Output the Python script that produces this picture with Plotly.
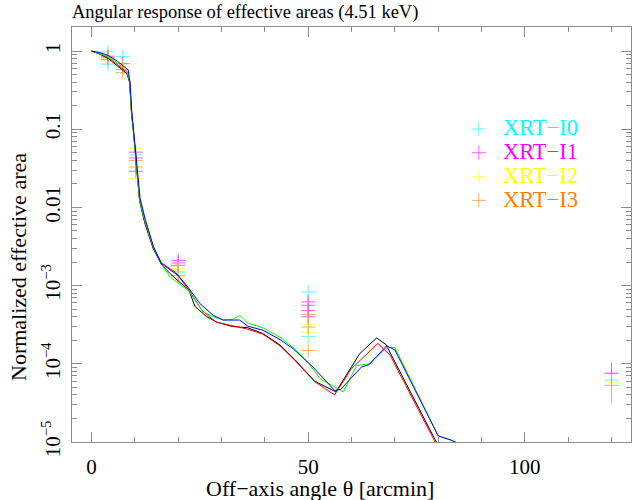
import plotly.graph_objects as go

# ---------------- data ----------------
# model curves (off-axis angle [arcmin], normalized effective area)
black_x = [0, 2, 4, 6, 8.2, 8.8, 9.2, 9.7, 10.4, 11.1, 12.3, 14.2, 16.15,
           18, 20, 22.4, 23.9, 26.6, 29, 32.5, 36, 39.5, 43.5, 47, 51.5,
           56.4, 61.9, 65.8, 67.9, 79.6, 82]
black_y = [1.0, 0.912, 0.794, 0.646, 0.513, 0.398, 0.170, 0.0912, 0.0302, 0.0120, 0.00631, 0.00302, 0.00186,
           1.45e-3, 1.15e-3, 8.9e-4, 5.4e-4, 4.0e-4, 3.4e-4, 3.0e-4, 2.9e-4, 2.45e-4, 1.74e-4, 1.12e-4, 6.0e-5,
           4.37e-5, 1.35e-4, 2.14e-4, 1.78e-4, 1.0e-5, 5.5e-6]

red_x = [0, 2, 4, 6, 8.2, 8.8, 9.2, 9.7, 10.4, 11.1, 12.3, 14.2, 16.15,
         19.4, 22.4, 25.5, 28.8, 35.8, 39.5, 43.5, 47, 51.5,
         56.1, 60, 66.1, 68.9, 79.3, 82]
red_y = [1.0, 0.923, 0.813, 0.676, 0.537, 0.407, 0.174, 0.0933, 0.0316, 0.0126, 0.00661, 0.00316, 0.00195,
         1.48e-3, 8.9e-4, 4.8e-4, 3.4e-4, 2.8e-4, 2.4e-4, 1.7e-4, 1.1e-4, 5.9e-5,
         4.0e-5, 8.7e-5, 1.82e-4, 1.29e-4, 1.0e-5, 5.0e-6]

green_x = [0, 2, 4, 6, 8.2, 8.8, 9.2, 9.7, 10.4, 11.1, 12.3, 14.2, 16.15,
           18.1, 22.3, 25.8, 28.1, 30.4, 32.7, 34.2, 36.1, 39.6, 43.5, 46.5, 49.8, 52.7,
           58.1, 61.2, 64.1, 68.1, 70.0, 80.0, 83.1, 90]
green_y = [1.0, 0.933, 0.832, 0.708, 0.550, 0.417, 0.178, 0.0933, 0.0316, 0.0126, 0.00676, 0.00316, 0.00191,
           1.29e-3, 8.7e-4, 4.6e-4, 4.0e-4, 3.63e-4, 3.72e-4, 4.17e-4, 3.31e-4, 2.88e-4, 2.19e-4, 1.62e-4, 1.07e-4, 6.5e-5,
           4.37e-5, 9.5e-5, 1.0e-4, 1.62e-4, 1.62e-4, 1.2e-5, 1.05e-5, 7.1e-6]

blue_x = [0, 2, 4, 6, 8.45, 8.9, 9.3, 9.8, 10.5, 11.2, 12.4, 14.3, 16.15,
          20, 22.3, 25, 28.1, 30.4, 34.2, 36.1, 39.6, 43.5, 46.6, 51.1,
          56.1, 57.5, 62.3, 64.1, 68.1, 70.0, 80.0, 83.1, 90]
blue_y = [1.0, 0.955, 0.871, 0.741, 0.575, 0.398, 0.166, 0.0891, 0.0316, 0.0132, 0.00708, 0.00316, 0.00191,
          1.35e-3, 9.5e-4, 5.9e-4, 4.17e-4, 3.63e-4, 3.63e-4, 3.02e-4, 2.69e-4, 2.04e-4, 1.55e-4, 9.1e-5,
          4.57e-5, 4.7e-5, 9.1e-5, 9.8e-5, 1.7e-4, 1.51e-4, 1.2e-5, 1.05e-5, 7.1e-6]

# measured points
i0_x = [3.8, 3.8, 7.2, 10.2, 20, 50, 50, 120]
i0_y = [0.98, 0.68, 0.85, 0.047, 1.5e-3, 8.3e-4, 2.24e-4, 6.2e-5]
i0_ep = [0, 0, 0, 0, 0, 0, 0, 1.5e-5]
i0_em = [0, 0, 0, 0, 0, 0, 0, 1.2e-5]

i1_x = [3.8, 7.2, 10.2, 10.2, 10.2, 20, 20, 20, 50, 50, 50, 50, 120]
i1_y = [0.86, 0.69, 0.051, 0.043, 0.029, 2.1e-3, 1.95e-3, 1.82e-3, 6.2e-4, 5.6e-4, 4.8e-4, 4.0e-4, 7.6e-5]
i1_ep = [0, 0, 0, 0, 0, 0, 0, 0, 0, 0, 0, 0, 2.8e-5]
i1_em = [0, 0, 0, 0, 0, 0, 0, 0, 0, 0, 0, 0, 1.5e-5]

i2_x = [3.8, 7.2, 10.2, 10.2, 20, 20, 50, 50, 120]
i2_y = [0.80, 0.63, 0.057, 0.0235, 1.66e-3, 1.29e-3, 3.2e-4, 2.5e-4, 5.8e-5]
i2_ep = [0, 0, 0, 0, 0, 0, 0, 0, 1.5e-5]
i2_em = [0, 0, 0, 0, 0, 0, 0, 0, 3.0e-5]

i3_x = [3.8, 3.8, 7.2, 7.2, 10.2, 10.2, 20, 50, 50, 50, 120, 120]
i3_y = [0.83, 0.78, 0.58, 0.53, 0.040, 0.033, 1.35e-3, 4.3e-4, 2.95e-4, 1.48e-4, 7.5e-5, 5.3e-5]
i3_ep = [0, 0, 0, 0, 0, 0, 0, 0, 0, 0, 1.5e-5, 1.5e-5]
i3_em = [0, 0, 0, 0, 0, 0, 0, 0, 0, 0, 2.0e-5, 2.0e-5]

y_tickvals = [1, 0.1, 0.01, 1e-3, 1e-4, 1e-5]
y_ticktext = ["1", "0.1", "0.01", "10<sup>−3</sup>", "10<sup>−4</sup>", "10<sup>−5</sup>"]

# ---------------- figure ----------------
FONT = "Liberation Serif, Times New Roman, serif"
AX = "#8c8c8c"

fig = go.Figure()

series = [
    ("XRT−I0", "#00ffff", i0_x, i0_y, i0_ep, i0_em),
    ("XRT−I1", "#ff00ff", i1_x, i1_y, i1_ep, i1_em),
    ("XRT−I2", "#ffff00", i2_x, i2_y, i2_ep, i2_em),
    ("XRT−I3", "#ff7f00", i3_x, i3_y, i3_ep, i3_em),
]
for name, col, xs, ys, ep, em in series:
    fig.add_trace(go.Scatter(
        x=xs, y=ys, mode="markers",
        name=f'<span style="color:{col};font-size:22.5px">{name}</span>',
        marker=dict(symbol="cross-thin-open", size=10, color=col,
                    line=dict(width=1, color=col)),
        opacity=0.65,
        error_y=dict(type="data", symmetric=False, array=ep, arrayminus=em,
                     color=col, thickness=1, width=0),
    ))

for xs, ys, col in [(black_x, black_y, "#000000"), (red_x, red_y, "#ff0000"),
                    (green_x, green_y, "#00ff00"), (blue_x, blue_y, "#0000ff")]:
    fig.add_trace(go.Scatter(x=xs, y=ys, mode="lines", showlegend=False,
                             line=dict(color=col, width=1)))

fig.update_layout(
    width=632, height=500,
    margin=dict(l=72, r=1, t=27, b=58, autoexpand=False),
    paper_bgcolor="white", plot_bgcolor="white",
    font=dict(family=FONT, size=21, color="black"),
    title=dict(text="Angular response of effective areas (4.51 keV)",
               x=72 / 632, xref="container", xanchor="left",
               y=1 - 12 / 500, yref="container", yanchor="middle",
               font=dict(family=FONT, size=18.5, color="black")),
    legend=dict(x=0.685, y=0.795, xanchor="left", yanchor="top",
                bgcolor="rgba(0,0,0,0)", font=dict(family=FONT, size=16),
                tracegroupgap=0, itemwidth=38),
    showlegend=True,
    annotations=[
        dict(text="Off−axis angle θ [arcmin]", xref="paper", yref="paper",
             x=(320 - 72) / 559, y=(442 - 488) / 415, xanchor="center", yanchor="middle",
             showarrow=False, font=dict(family=FONT, size=22, color="black")),
        dict(text="Normalized effective area", xref="paper", yref="paper",
             x=(18 - 72) / 559, y=(442 - 267) / 415, xanchor="center", yanchor="middle",
             textangle=-90, showarrow=False, font=dict(family=FONT, size=22, color="black")),
    ],
)

fig.update_xaxes(
    range=[-4.5, 124.5], tick0=0, dtick=50, automargin=False,
    showline=True, linecolor=AX, linewidth=1, mirror="ticks",
    ticks="inside", ticklen=10, tickcolor=AX, tickwidth=1,
    minor=dict(dtick=10, tick0=0, ticks="inside", ticklen=5, tickcolor=AX, showgrid=False),
    showgrid=False, zeroline=False,
    ticklabelstandoff=6,
)
fig.update_yaxes(
    type="log", range=[-5, 0.308], automargin=False,
    tickmode="array", tickvals=y_tickvals, ticktext=y_ticktext,
    tickangle=-90,
    showline=True, linecolor=AX, linewidth=1, mirror="ticks",
    ticks="inside", ticklen=10, tickcolor=AX, tickwidth=1,
    minor=dict(dtick="D1", ticks="inside", ticklen=5, tickcolor=AX, showgrid=False),
    showgrid=False, zeroline=False,
    ticklabelstandoff=3,
)

fig.write_html("out.html", config={"displayModeBar": False},
               post_script="document.body.style.margin='0';")
